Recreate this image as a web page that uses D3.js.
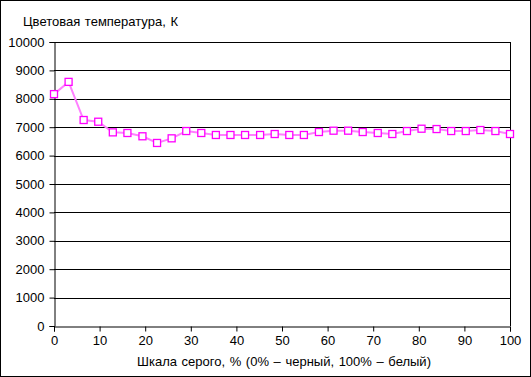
<!DOCTYPE html>
<html>
<head>
<meta charset="utf-8">
<script src="https://cdn.jsdelivr.net/npm/d3@7"></script>
<style>
  body { margin: 0; background: #fff; }
  svg { display: block; font-family: "Liberation Sans", Arial, sans-serif; }
</style>
</head>
<body>
<svg id="chart"></svg>
<script>
// grey scale %, colour temperature K
const grayPct = [0, 3.2, 6.5, 9.7, 12.9, 16.1, 19.4, 22.6, 25.8, 29.0, 32.3, 35.5, 38.7, 41.9, 45.2, 48.4,
                 51.6, 54.8, 58.1, 61.3, 64.5, 67.7, 71.0, 74.2, 77.4, 80.6, 83.9, 87.1, 90.3, 93.5, 96.8, 100];
const tempK = [8165, 8596, 7253, 7193, 6818, 6796, 6680, 6445, 6608, 6865, 6796, 6726, 6726, 6726, 6726, 6760,
               6726, 6726, 6830, 6877, 6877, 6830, 6796, 6760, 6865, 6947, 6935, 6865, 6865, 6900, 6865, 6760];
const xTicks = [0, 10, 20, 30, 40, 50, 60, 70, 80, 90, 100];
const yTicks = [0, 1000, 2000, 3000, 4000, 5000, 6000, 7000, 8000, 9000, 10000];
const yTitle = "Цветовая температура,  К";
const xTitle = "Шкала серого, % (0% – черный,  100% – белый)";

const width = 531, height = 377;
const margin_left = 54, margin_right = 21, margin_top = 42, margin_bottom = 51;
const effective_width = width - margin_left - margin_right;
const effective_height = height - margin_top - margin_bottom;

const svg = d3.select("#chart").attr("width", width).attr("height", height);

// outer frame
svg.append("rect")
    .attr("x", 0.5).attr("y", 0.5)
    .attr("width", width - 1).attr("height", height - 1)
    .attr("fill", "#fff").attr("stroke", "#000");

const g = svg.append("g").attr("transform", "translate(" + margin_left + "," + margin_top + ")");

const xAxis = d3.scaleLinear().domain([0, 100]).range([0, effective_width]);
const yAxis = d3.scaleLinear().domain([0, 10000]).range([effective_height, 0]);

// horizontal grid
g.append("g").selectAll("line")
    .data(yTicks.filter(d => d > 0))
    .enter().append("line")
    .attr("x1", 0).attr("x2", effective_width)
    .attr("y1", d => Math.round(yAxis(d)) + 0.5)
    .attr("y2", d => Math.round(yAxis(d)) + 0.5)
    .attr("stroke", "#000").attr("stroke-width", 1);

// right border of plot area
g.append("line")
    .attr("x1", effective_width + 0.5).attr("x2", effective_width + 0.5)
    .attr("y1", yAxis(10000)).attr("y2", yAxis(0))
    .attr("stroke", "#000");

const yG = g.append("g")
    .attr("transform", "translate(0.5,0)")
    .call(d3.axisLeft(yAxis).tickValues(yTicks).tickSize(5).tickPadding(5).tickFormat(d3.format("d")));
yG.selectAll("text").style("font-size", "13px").attr("fill", "#000");

const xG = g.append("g")
    .attr("transform", "translate(0," + (effective_height + 0.5) + ")")
    .call(d3.axisBottom(xAxis).tickValues(xTicks).tickSize(5).tickPadding(4).tickFormat(d3.format("d")));
xG.selectAll("text").style("font-size", "13px").attr("fill", "#000");
svg.selectAll(".domain").attr("stroke", "#000");
svg.selectAll(".tick line").attr("stroke", "#000");

// series line
const line = d3.line()
    .x((d, i) => xAxis(grayPct[i]))
    .y(d => yAxis(d));

g.append("path")
    .datum(tempK)
    .attr("d", line)
    .attr("fill", "none")
    .attr("stroke", "#ff80ff")
    .attr("stroke-width", 2);

// square markers
const sq = 7;
g.append("g").selectAll("rect")
    .data(tempK)
    .enter().append("rect")
    .attr("x", (d, i) => xAxis(grayPct[i]) - sq / 2)
    .attr("y", d => yAxis(d) - sq / 2)
    .attr("width", sq).attr("height", sq)
    .attr("fill", "#fff")
    .attr("stroke", "#ff00ff")
    .attr("stroke-width", 1.3);

// titles
svg.append("text")
    .attr("x", 23).attr("y", 26)
    .style("font-size", "13px")
    .style("word-spacing", "1px")
    .text(yTitle);

svg.append("text")
    .attr("x", 284).attr("y", 366)
    .attr("text-anchor", "middle")
    .style("font-size", "13px")
    .style("word-spacing", "1px")
    .text(xTitle);
</script>
</body>
</html>
